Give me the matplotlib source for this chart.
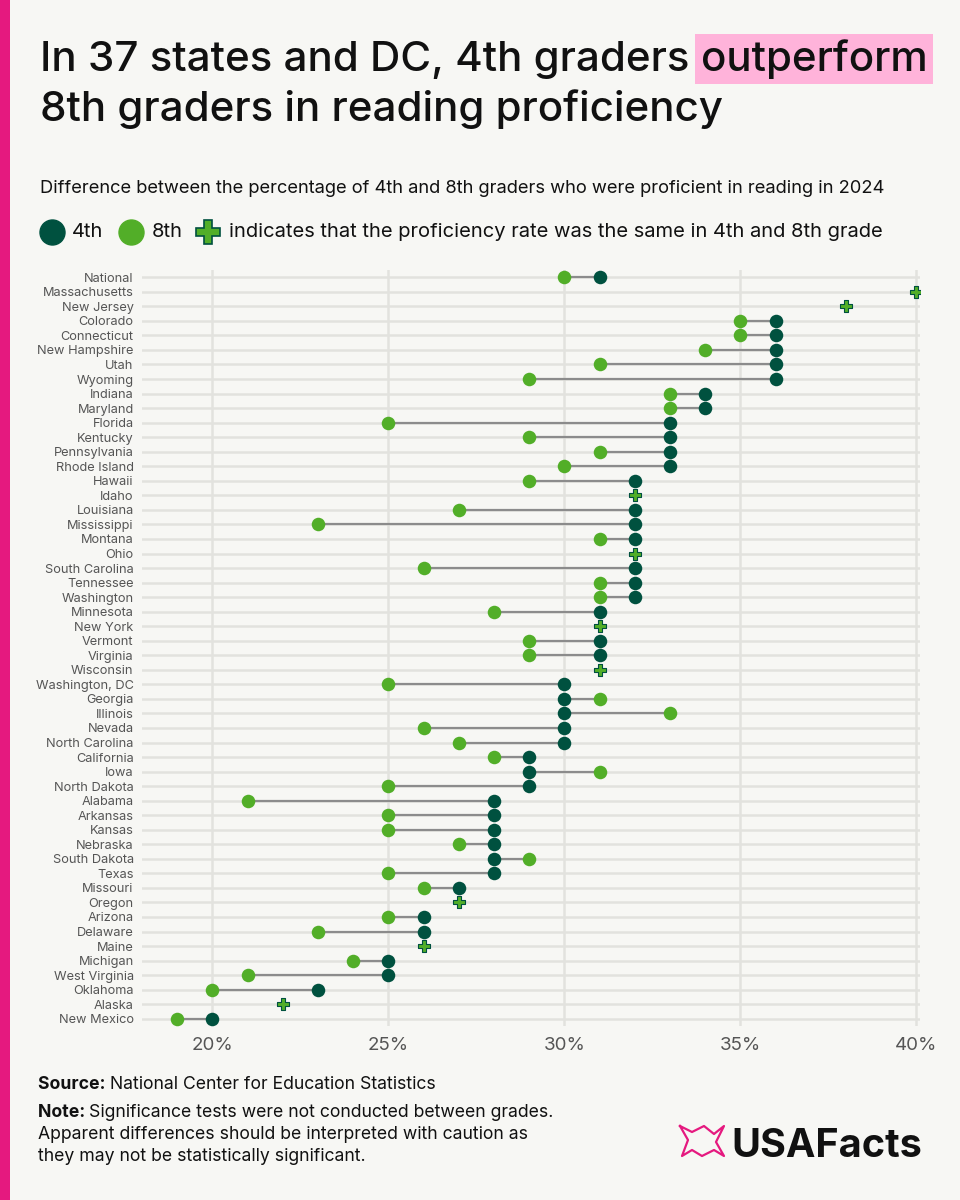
import numpy as np
import matplotlib.pyplot as plt
from matplotlib.patches import Rectangle
from matplotlib.lines import Line2D

states = ['National', 'Massachusetts', 'New Jersey', 'Colorado', 'Connecticut',
          'New Hampshire', 'Utah', 'Wyoming', 'Indiana', 'Maryland', 'Florida',
          'Kentucky', 'Pennsylvania', 'Rhode Island', 'Hawaii', 'Idaho',
          'Louisiana', 'Mississippi', 'Montana', 'Ohio', 'South Carolina',
          'Tennessee', 'Washington', 'Minnesota', 'New York', 'Vermont',
          'Virginia', 'Wisconsin', 'Washington, DC', 'Georgia', 'Illinois',
          'Nevada', 'North Carolina', 'California', 'Iowa', 'North Dakota',
          'Alabama', 'Arkansas', 'Kansas', 'Nebraska', 'South Dakota', 'Texas',
          'Missouri', 'Oregon', 'Arizona', 'Delaware', 'Maine', 'Michigan',
          'West Virginia', 'Oklahoma', 'Alaska', 'New Mexico']
fourth = [31, 40, 38, 36, 36, 36, 36, 36, 34, 34, 33, 33, 33, 33, 32, 32,
          32, 32, 32, 32, 32, 32, 32, 31, 31, 31, 31, 31, 30, 30, 30, 30, 30,
          29, 29, 29, 28, 28, 28, 28, 28, 28, 27, 27, 26, 26, 26, 25, 25, 23,
          22, 20]
eighth = [30, 40, 38, 35, 35, 34, 31, 29, 33, 33, 25, 29, 31, 30, 29, 32,
          27, 23, 31, 32, 26, 31, 31, 28, 31, 29, 29, 31, 25, 31, 33, 26, 27,
          28, 31, 25, 21, 25, 25, 27, 29, 25, 26, 27, 25, 23, 26, 24, 21, 20,
          22, 19]
xticks = [20, 25, 30, 35, 40]

BG = '#F7F7F4'
DARK = '#00513F'
LIGHT = '#52AE28'
PINK = '#E5197F'
GRID = '#E2E2DE'
TXT = '#111111'

plt.rcParams['font.family'] = ['Inter', 'DejaVu Sans']

fig = plt.figure(figsize=(9.6, 12), dpi=100, facecolor=BG)
W, H = 960, 1200


def fx(px):
    return px / W


def fy(py):
    return 1 - py / H


def run_text(x_px, y_px, parts, size):
    # draw several pieces of text one after another on the same baseline
    x = x_px
    r = fig.canvas.get_renderer()
    for s, w in parts:
        t = fig.text(fx(x), fy(y_px), s, fontsize=size, fontweight=w,
                     color=TXT, va='baseline', ha='left')
        x = t.get_window_extent(renderer=r).x1
    return x


# pink bar on the left
fig.patches.append(Rectangle((0, 0), fx(10), 1, transform=fig.transFigure,
                             facecolor=PINK, edgecolor='none'))

# title with highlighted word
fig.canvas.draw()
r = fig.canvas.get_renderer()
t1 = fig.text(fx(40), fy(71), 'In 37 states and DC, 4th graders ', fontsize=30.3,
              fontweight='medium', color=TXT, va='baseline', ha='left')
bb = t1.get_window_extent(renderer=r)
fig.text(bb.x1 / W, fy(71), 'outperform', fontsize=30.3, fontweight='medium',
         color=TXT, va='baseline', ha='left',
         bbox=dict(facecolor='#FFB3DA', edgecolor='none', pad=4))
fig.text(fx(40), fy(121), '8th graders in reading proficiency', fontsize=30.3,
         fontweight='medium', color=TXT, va='baseline', ha='left')

fig.text(fx(40), fy(193), 'Difference between the percentage of 4th and 8th '
         'graders who were proficient in reading in 2024', fontsize=13.2,
         color=TXT, va='baseline')

# legend row
ly = fy(232)
fig.add_artist(Line2D([fx(52)], [ly], marker='o', markersize=18, color=DARK,
                      transform=fig.transFigure, linestyle='none'))
fig.text(fx(72), ly, '4th', fontsize=14.5, color=TXT, va='center')
fig.add_artist(Line2D([fx(131)], [ly], marker='o', markersize=18, color=LIGHT,
                      transform=fig.transFigure, linestyle='none'))
fig.text(fx(152), ly, '8th', fontsize=14.5, color=TXT, va='center')
fig.add_artist(Line2D([fx(208)], [ly], marker='P', markersize=17, color=LIGHT,
                      markeredgecolor=DARK, markeredgewidth=1.2,
                      transform=fig.transFigure, linestyle='none'))
fig.text(fx(229), ly, 'indicates that the proficiency rate was the same in '
         '4th and 8th grade', fontsize=14.5, color=TXT, va='center')

# main chart
ax = fig.add_axes([fx(142), fy(1026), fx(920) - fx(142), (1026 - 270) / H])
ax.set_facecolor(BG)
y = np.arange(len(states))
f = np.array(fourth)
e = np.array(eighth)
same = f == e
diff = ~same

ax.hlines(y[diff], np.minimum(f, e)[diff], np.maximum(f, e)[diff],
          color='#8C8C8C', lw=1.6, zorder=3)
ax.scatter(e[diff], y[diff], s=95, color=LIGHT, zorder=4, linewidths=0)
ax.scatter(f[diff], y[diff], s=95, color=DARK, zorder=5, linewidths=0)
ax.scatter(f[same], y[same], s=80, marker='P', color=LIGHT, edgecolors=DARK,
           linewidths=0.8, zorder=5)

ax.set_xlim(18, 40.1)
ax.set_ylim(len(states) - 0.5, -0.5)
ax.set_yticks(y)
ax.set_yticklabels(states)
ax.set_xticks(xticks)
ax.set_xticklabels([f'{v}%' for v in xticks])
ax.tick_params(axis='y', length=0, pad=6, labelsize=9.2, labelcolor='#555555')
ax.tick_params(axis='x', length=0, pad=8, labelsize=13.5, labelcolor='#555555')
ax.grid(True, color=GRID, lw=1.8, zorder=0)
ax.set_axisbelow(True)
for s in ax.spines.values():
    s.set_visible(False)

# footer
run_text(38, 1089, [('Source: ', 'bold'),
                    ('National Center for Education Statistics', 'normal')], 12.7)
run_text(38, 1117, [('Note: ', 'bold'),
                    ('Significance tests were not conducted between grades.',
                     'normal')], 12.7)
run_text(38, 1139, [('Apparent differences should be interpreted with caution as',
                     'normal')], 12.7)
run_text(38, 1161, [('they may not be statistically significant.', 'normal')], 12.7)

# logo
fig.text(fx(922), fy(1157), 'USAFacts', fontsize=28.5, fontweight='bold',
         color=TXT, ha='right', va='baseline')
icon_x = [680, 692, 704, 714, 724, 716, 724, 714, 702, 692, 682, 688, 680]
icon_y = [1126, 1132, 1126, 1134, 1126, 1142, 1156, 1150, 1156, 1150, 1156, 1140, 1126]
fig.add_artist(Line2D([fx(v) for v in icon_x], [fy(v) for v in icon_y],
                      color=PINK, lw=1.6, transform=fig.transFigure))

fig.savefig('out.png', dpi=100, facecolor=BG)
